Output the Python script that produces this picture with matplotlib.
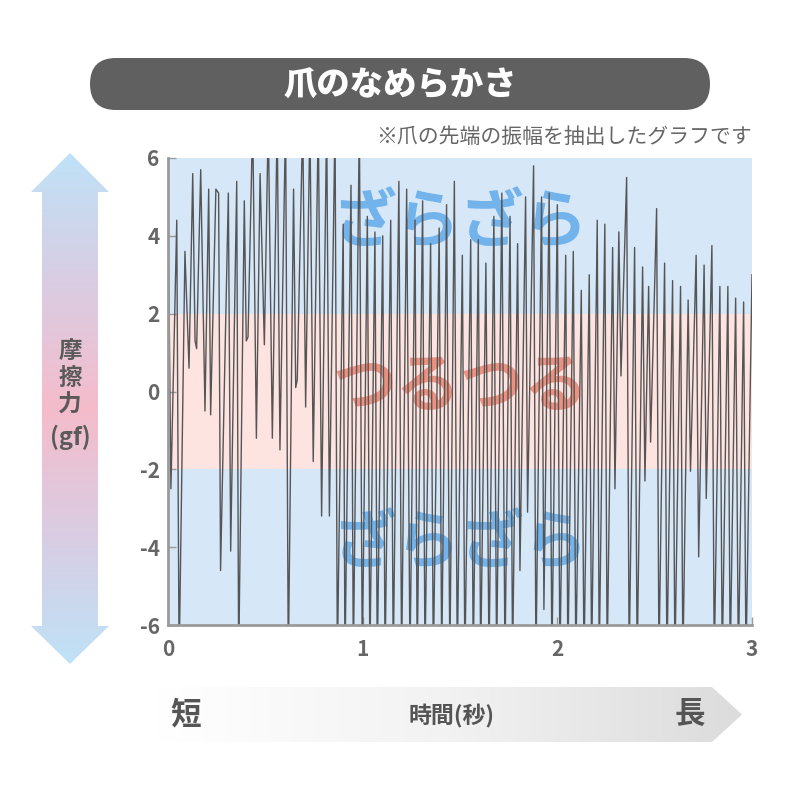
import matplotlib
matplotlib.use('Agg')
import matplotlib.pyplot as plt
import numpy as np
from matplotlib.patches import FancyBboxPatch, Polygon
from matplotlib.colors import LinearSegmentedColormap

plt.rcParams['font.family'] = ['Noto Sans CJK JP', 'DejaVu Sans']

# ---------------- data ----------------
time_s = [0.000, 0.015, 0.045, 0.057, 0.087, 0.108, 0.127, 0.139, 0.147, 0.168,
          0.190, 0.209, 0.219, 0.246, 0.260, 0.270, 0.310, 0.322, 0.353, 0.363,
          0.392, 0.402, 0.411, 0.435, 0.454, 0.473, 0.495, 0.515, 0.536, 0.561,
          0.575, 0.604, 0.618, 0.645, 0.656, 0.664, 0.692, 0.707, 0.729, 0.746,
          0.772, 0.789, 0.815, 0.829, 0.858, 0.870, 0.900, 0.909, 0.940, 0.952,
          0.983, 0.998, 1.024, 1.037, 1.063, 1.075, 1.103, 1.115, 1.144, 1.157,
          1.186, 1.200, 1.226, 1.243, 1.269, 1.280, 1.308, 1.320, 1.349, 1.363,
          1.393, 1.406, 1.431, 1.448, 1.471, 1.486, 1.512, 1.525, 1.555, 1.568,
          1.594, 1.606, 1.633, 1.649, 1.674, 1.688, 1.715, 1.731, 1.757, 1.770,
          1.796, 1.808, 1.837, 1.847, 1.878, 1.890, 1.919, 1.931, 1.958, 1.972,
          2.000, 2.013, 2.043, 2.054, 2.082, 2.095, 2.123, 2.137, 2.164, 2.176,
          2.205, 2.215, 2.244, 2.256, 2.284, 2.296, 2.316, 2.327, 2.356, 2.369,
          2.397, 2.410, 2.438, 2.450, 2.469, 2.479, 2.510, 2.522, 2.551, 2.563,
          2.592, 2.604, 2.633, 2.645, 2.672, 2.684, 2.713, 2.726, 2.754, 2.765,
          2.794, 2.806, 2.835, 2.847, 2.876, 2.888, 2.916, 2.930, 2.957, 2.969,
          3.000]
friction_gf = [5.0, -2.5, 4.4, -7, 3.6, 0.6, 5.6, 1.3, 1.1, 5.7,
               -0.5, 5.2, -0.6, 5.2, 5.1, -4.6, 5.1, -4.1, 5.4, -7,
               4.9, 1.3, 1.4, 7, -1.2, 5.6, 1.2, 7, -1.2, 7,
               -1.5, 7, -7, 5.2, 0.1, 0.3, 7, -0.4, 7, -1.8,
               7, -3.2, 7, -3.2, 7, -7, 4.3, -7, 5.3, -7,
               7, -7, 4.5, -7, 4.1, -7, 4.0, -7, 4.4, -7,
               5.4, -7, 5.2, -7, 4.4, -7, 4.9, -7, 3.8, -7,
               4.2, -7, 4.8, -7, 5.4, -7, 3.5, -7, 3.9, -7,
               3.9, -7, 3.3, -7, 4.5, -7, 5.1, -7, 4.5, -7,
               3.8, -4.6, 5.0, -3.1, 5.8, -7, 5.0, -5.6, 5.1, -7,
               4.8, -7, 3.5, -7, 3.6, -7, 2.6, -7, 3.0, -7,
               4.4, -7, 4.3, -7, 3.7, -2.5, 4.1, 0.4, 5.5, -7,
               3.7, -7, 3.2, -2.3, 2.7, -1.3, 4.7, -7, 3.3, -7,
               2.85, -7, 2.7, -7, 2.35, -2.05, 3.5, -4.25, 3.25, -2.75,
               3.75, -7, 2.7, -7, 2.7, -7, 2.4, -7, 2.3, -7,
               3.0]
x_ticks = [0, 1, 2, 3]
y_ticks = [-6, -4, -2, 0, 2, 4, 6]
zone_labels = ['ざらざら', 'つるつる', 'ざらざら']

title = '爪のなめらかさ'
subtitle = '※爪の先端の振幅を抽出したグラフです'
y_label_lines = ['摩', '擦', '力', '(gf)']
x_left, x_mid, x_right = '短', '時間(秒)', '長'

# ---------------- figure ----------------
fig = plt.figure(figsize=(8, 8), dpi=100)
fig.patch.set_facecolor('white')

ov = fig.add_axes([0, 0, 1, 1])
ov.set_zorder(0)
ov.axis('off')

# Title pill
pill = FancyBboxPatch((90, 58), 620, 52, boxstyle='round,pad=0,rounding_size=26',
                      facecolor='#606060', edgecolor='none')
ov.add_patch(pill)
ov.text(400, 85, title, color='white', fontsize=24, fontweight='heavy',
        ha='center', va='center')
ov.text(752, 137, subtitle, color='#666666', fontsize=15, ha='right', va='center')

# Left vertical double arrow with gradient
varrow = Polygon([(70, 153), (109, 192), (98, 192), (98, 626), (109, 626),
                  (70, 664), (31, 626), (42, 626), (42, 192), (31, 192)],
                 closed=True, facecolor='none', edgecolor='none')
ov.add_patch(varrow)
vcmap = LinearSegmentedColormap.from_list('v', ['#bfe2f7', '#d9cde3', '#f5bccb', '#d9cde3', '#bfe2f7'])
vgrad = np.linspace(0, 1, 256).reshape(-1, 1)
im1 = ov.imshow(vgrad, cmap=vcmap, extent=(31, 109, 664, 153), origin='upper',
                aspect='auto', interpolation='bilinear')
im1.set_clip_path(varrow)
for txt, yy in zip(y_label_lines, [351, 378, 405, 437]):
    ov.text(70, yy, txt, color='#5a5a5a', fontsize=17, fontweight='bold',
            ha='center', va='center')

# Bottom horizontal arrow with gradient
harrow = Polygon([(158, 687), (712, 687), (742, 714.5), (712, 742), (158, 742)],
                 closed=True, facecolor='none', edgecolor='none')
ov.add_patch(harrow)
hcmap = LinearSegmentedColormap.from_list('h', ['#ffffff', '#f2f2f2', '#dcdcdc'])
hgrad = np.linspace(0, 1, 256).reshape(1, -1)
im2 = ov.imshow(hgrad, cmap=hcmap, extent=(158, 742, 742, 687), origin='upper',
                aspect='auto', interpolation='bilinear')
im2.set_clip_path(harrow)
ov.text(186, 714, x_left, color='#555555', fontsize=22, fontweight='bold',
        ha='center', va='center')
ov.text(452, 716, x_mid, color='#555555', fontsize=16.5, fontweight='bold',
        ha='center', va='center')
ov.text(690, 714, x_right, color='#555555', fontsize=22, fontweight='bold',
        ha='center', va='center')

ov.set_xlim(0, 800)
ov.set_ylim(800, 0)

# ---------------- main plot ----------------
ax = fig.add_axes([168 / 800, 1 - 625 / 800, (752 - 168) / 800, (625 - 158) / 800])
ax.set_zorder(2)
ax.patch.set_alpha(0)
ax.set_xlim(0, 3)
ax.set_ylim(-6, 6)

ax.axhspan(2, 6, color='#d6e7f8', zorder=0, lw=0)
ax.axhspan(-2, 2, color='#fde4e1', zorder=0, lw=0)
ax.axhspan(-6, -2, color='#d6e7f8', zorder=0, lw=0)

ax.text(1.5, 4.3, zone_labels[0], color='#72b3ec', fontsize=46, fontweight='bold',
        ha='center', va='center', zorder=1)
ax.text(1.5, 0.1, zone_labels[1], color='#ec917f', fontsize=46, fontweight='bold',
        ha='center', va='center', zorder=1)
ax.text(1.5, -3.95, zone_labels[2], color='#72b3ec', fontsize=46, fontweight='bold',
        ha='center', va='center', zorder=1)

ax.plot(time_s, friction_gf, color='#555555', lw=1.0, zorder=3)

for s in ['top', 'right']:
    ax.spines[s].set_visible(False)
for s in ['left', 'bottom']:
    ax.spines[s].set_color('#9a9a9a')
    ax.spines[s].set_linewidth(2)
    ax.spines[s].set_zorder(4)

ax.set_xticks(x_ticks)
ax.set_yticks(y_ticks)
ax.set_xticklabels([str(v) for v in x_ticks])
ax.set_yticklabels([str(v) for v in y_ticks])
ax.tick_params(axis='both', direction='in', length=6, width=1, color='#9a9a9a',
               labelcolor='#666666', labelsize=15)
ax.tick_params(axis='x', pad=10)
ax.tick_params(axis='y', pad=6)
for lab in ax.get_xticklabels() + ax.get_yticklabels():
    lab.set_fontweight('bold')

fig.savefig('out.png', dpi=100, facecolor='white')
